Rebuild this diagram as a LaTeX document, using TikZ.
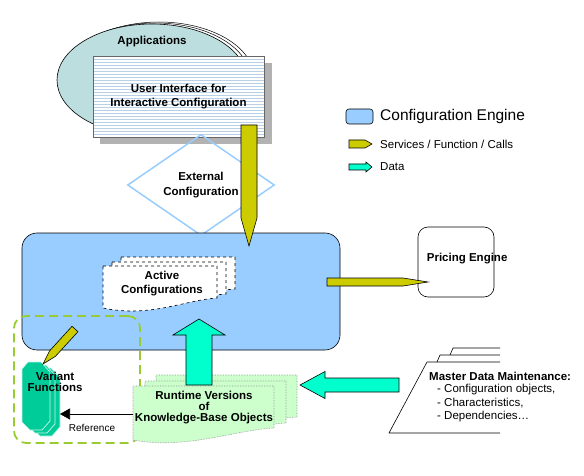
\documentclass[tikz,border=0pt]{standalone}
\usepackage{fontspec}
\setmainfont{Liberation Sans}
\usetikzlibrary{calc,shapes.geometric,arrows.meta}

\definecolor{enginecol}{HTML}{99CCFF}
\definecolor{pencilcol}{HTML}{CCCC00}
\definecolor{datacol}{HTML}{00FFCC}
\definecolor{kbcol}{HTML}{CCFFCC}
\definecolor{varcol}{HTML}{00CC99}
\definecolor{groupcol}{HTML}{99CC33}
\definecolor{appcol}{HTML}{BCDEDE}
\definecolor{stripecol}{HTML}{B8D0E8}

% pencil shaped call arrow: from, to, half width, tip length
\newcommand\pencilarrow[4]{%
  \coordinate (tipbase) at ($(#2)!#4!(#1)$);
  \filldraw[pencil] ($(#1)!#3!90:(#2)$) -- ($(tipbase)!#3!90:(#2)$) -- (#2)
    -- ($(tipbase)!#3!-90:(#2)$) -- ($(#1)!#3!-90:(#2)$) -- cycle;
}
% fat data arrow: from, to, shaft half width, head half width, head length
\newcommand\dataarrow[5]{%
  \coordinate (headbase) at ($(#2)!#5!(#1)$);
  \filldraw[dataflow] ($(#1)!#3!90:(#2)$) -- ($(headbase)!#3!90:(#2)$)
    -- ($(headbase)!#4!90:(#2)$) -- (#2) -- ($(headbase)!#4!-90:(#2)$)
    -- ($(headbase)!#3!-90:(#2)$) -- ($(#1)!#3!-90:(#2)$) -- cycle;
}

\begin{document}
\begin{tikzpicture}[x=1pt, y=-1pt,
  every node/.style={font=\fontsize{11.5}{14}\selectfont\bfseries, align=center, inner sep=0pt},
  pencil/.style={fill=pencilcol, draw=black, line width=0.6pt},
  dataflow/.style={fill=datacol, draw=black, line width=0.6pt},
  activepage/.style={fill=white, draw=black, dashed, line width=0.6pt},
  kbpage/.style={fill=kbcol, draw=black!45, densely dotted, line width=0.6pt},
  varpage/.style={fill=varcol, draw=white!80!varcol, line width=0.7pt},
  legendtext/.style={anchor=west, font=\fontsize{11.5}{14}\selectfont}
]
\useasboundingbox (0,0) rectangle (584,476);

% applications with the user interface
\foreach \dx/\dy in {7/-2, 3.5/-1}
  \draw[fill=white, line width=0.5pt] (152+\dx,80+\dy) ellipse [x radius=95pt, y radius=56pt];
\draw[fill=appcol, line width=0.6pt] (152,80) ellipse [x radius=95pt, y radius=56pt];
\node (apps) at (152,42) {Applications};
\fill[black!30] (100,63) rectangle (272,144);
\node[draw=black!60, fill=white, line width=0.5pt, minimum width=171pt, minimum height=81pt,
  path picture={\foreach \k in {1,...,26}
    \draw[stripecol, line width=0.9pt] ([yshift=-3*\k]path picture bounding box.north west)
      -- ([yshift=-3*\k]path picture bounding box.north east);}] (ui) at (178.5,96.5)
  {User Interface for\\Interactive Configuration};

\node[diamond, draw=enginecol, line width=1.5pt, minimum width=147pt, minimum height=66pt,
  font=\fontsize{11.5}{15}\selectfont\bfseries] (extcfg) at (201,185) {External\\Configuration};

% configuration engine
\node[draw, fill=enginecol, rounded corners=15pt, line width=0.6pt, minimum width=318pt, minimum height=117pt] (engine) at (181,291.5) {};
\foreach \dx/\dy in {18/-9, 9/-4, 0/0}
  \draw[activepage, shift={(\dx,\dy)}] (103,266) -- (217,266) -- (217,298)
    .. controls (185,300) and (150,318) .. (103,308) -- cycle;
\node (active) at (162,284) {Active\\Configurations};

\node[draw, rounded corners=10pt, line width=0.6pt, minimum width=76pt, minimum height=70pt] (pricing) at (456,262) {};
\node[anchor=west] (pricingtext) at ([xshift=9pt, yshift=3pt]pricing.west) {Pricing Engine};

% knowledge base and variant functions
\node[draw=groupcol, dash pattern=on 9pt off 5pt, line width=1.8pt, rounded corners=12pt,
  minimum width=126pt, minimum height=127pt] (vargroup) at (77,379.5) {};
\foreach \dx/\dy in {23/-11, 12/-5, 0/0}
  \draw[kbpage, shift={(\dx,\dy)}] (133,386) -- (274,386) -- (274,428)
    .. controls (235,430) and (185,450) .. (133,440) -- cycle;
\node[font=\fontsize{11.5}{11}\selectfont\bfseries] (runtime) at (204,408) {Runtime Versions\\of\\Knowledge-Base Objects};

\foreach \dx/\dy in {10/6, 5/3, 0/0}
  \draw[varpage, shift={(\dx,\dy)}] (28,362) -- (41,362) -- (50,372) -- (50,421)
    -- (42,430) -- (30,430) -- (22,422) -- (22,369) -- cycle;
\coordinate (varback) at (60,414);
\node[font=\fontsize{11.5}{11}\selectfont\bfseries] (vartext) at (55,381.5) {Variant\\Functions};

\coordinate (refstart) at (133,414);
\draw[line width=0.6pt, -{Triangle[length=10pt, width=11pt]}] (refstart) -- (varback);
\node[font=\fontsize{10}{12}\selectfont] (reflabel) at (92,428) {Reference};

% master data
\draw[line width=0.6pt] (500,362) -- (427,362) -- (389,433) -- (500,433);
\draw[line width=0.6pt] (437,362) -- (440,355) -- (500,355);
\draw[line width=0.6pt] (450,355) -- (453,348) -- (500,348);
\node[anchor=west] (master) at (429,376) {Master Data Maintenance:};
\node[anchor=north west, align=left, font=\fontsize{11.5}{13.5}\selectfont] (masterlist) at (437,384)
  {- Configuration objects,\\- Characteristics,\\- Dependencies\dots};

% calls and data flow
\coordinate (uiout) at (249,125);
\coordinate (enginein) at (249,246);
\pencilarrow{uiout}{enginein}{8pt}{28pt}
\coordinate (engineout) at (327,282);
\coordinate (pricingin) at (428,282);
\pencilarrow{engineout}{pricingin}{4pt}{25pt}
\coordinate (varcall) at (75,329);
\coordinate (varin) at (43,364);
\pencilarrow{varcall}{varin}{4pt}{14pt}
\coordinate (kbout) at (199,385);
\coordinate (enginekb) at (199,319);
\dataarrow{kbout}{enginekb}{13pt}{26pt}{16pt}
\coordinate (masterout) at (399,385);
\coordinate (kbin) at (300,385);
\dataarrow{masterout}{kbin}{7pt}{13.5pt}{25pt}

% legend
\node[draw, fill=enginecol, rounded corners=3pt, line width=0.6pt, minimum width=27pt, minimum height=15pt] (legengine) at (359.5,116.5) {};
\node[legendtext, font=\fontsize{15.5}{18}\selectfont] at (380,116) {Configuration Engine};
\coordinate (legcall1) at (349,144);
\coordinate (legcall2) at (372,144);
\pencilarrow{legcall1}{legcall2}{4pt}{7pt}
\node[legendtext] at (380,144) {Services / Function / Calls};
\coordinate (legdata1) at (349,167);
\coordinate (legdata2) at (372,167);
\dataarrow{legdata1}{legdata2}{3pt}{5pt}{6pt}
\node[legendtext] at (380,167) {Data};
\end{tikzpicture}
\end{document}
